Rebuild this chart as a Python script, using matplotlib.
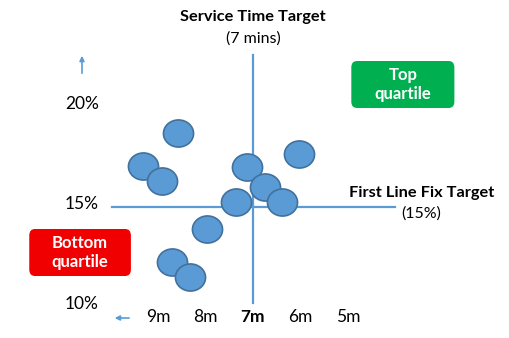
import matplotlib.pyplot as plt
from matplotlib.patches import FancyBboxPatch
from matplotlib.markers import MarkerStyle
from matplotlib.transforms import Affine2D

# service time (minutes) and first line fix rate (%) per site
service_min = [8.58, 9.32, 8.92, 7.13, 6.03, 6.75, 7.36, 6.39, 7.97, 8.71, 8.33]
fix_pct = [18.55, 16.9, 16.15, 16.85, 17.5, 15.85, 15.1, 15.1, 13.75, 12.1, 11.35]

time_ticks = [9, 8, 7, 6, 5]
time_labels = ['9m', '8m', '7m', '6m', '5m']
pct_ticks = [20, 15, 10]
pct_labels = ['20%', '15%', '10%']

time_target = 7
fix_target = 15

blue = '#5b9bd5'
edge = '#41719c'

plt.rcParams['font.family'] = ['Lato', 'DejaVu Sans']

fig = plt.figure(figsize=(5.1, 3.38), dpi=100)
ax = fig.add_axes([0, 0, 1, 1])
ax.set_xlim(12.326, 1.589)   # faster times to the right
ax.set_ylim(8.3, 25.2)
ax.axis('off')

# target cross-hairs
ax.plot([time_target, time_target], [10.05, 22.45], color=blue, lw=1.6, zorder=1)
ax.plot([9.97, 4.01], [fix_target - 0.15, fix_target - 0.15], color=blue, lw=1.6, zorder=1)

# slightly flattened discs
oval = MarkerStyle('o', transform=Affine2D().scale(1.0, 0.9))
ax.scatter(service_min, fix_pct, s=470, marker=oval, color=blue,
           edgecolor=edge, linewidth=1.2, zorder=3)

# axis labels
for t, lab in zip(time_ticks, time_labels):
    ax.text(t, 9.35, lab, ha='center', va='center', fontsize=12.5,
            fontweight='bold' if t == time_target else 'normal')
for p, lab in zip(pct_ticks, pct_labels):
    ax.text(10.6, p, lab, ha='center', va='center', fontsize=12.5)

# direction arrows
ax.annotate('', xy=(10.6, 22.55), xytext=(10.6, 21.4),
            arrowprops=dict(arrowstyle='-|>', color=blue, lw=1.2, mutation_scale=7))
ax.annotate('', xy=(9.97, 9.3), xytext=(9.55, 9.3),
            arrowprops=dict(arrowstyle='-|>', color=blue, lw=1.2, mutation_scale=7))

# target titles
ax.text(time_target, 24.35, 'Service Time Target', ha='center', va='center',
        fontsize=11.8, fontweight='bold')
ax.text(time_target, 23.25, '(7 mins)', ha='center', va='center', fontsize=11.5)
ax.text(3.45, 15.55, 'First Line Fix Target', ha='center', va='center',
        fontsize=11.8, fontweight='bold')
ax.text(3.45, 14.5, '(15%)', ha='center', va='center', fontsize=11.5)

# quartile badges
def badge(x0, x1, y0, y1, color, text):
    box = FancyBboxPatch((min(x0, x1), y0), abs(x1 - x0), y1 - y0,
                         boxstyle='round,pad=0,rounding_size=0.12',
                         facecolor=color, edgecolor='none', zorder=2,
                         mutation_aspect=(y1 - y0) / abs(x1 - x0) * 2.5)
    ax.add_patch(box)
    ax.text((x0 + x1) / 2, (y0 + y1) / 2, text, ha='center', va='center',
            color='white', fontsize=12, fontweight='bold', linespacing=1.3, zorder=3)

badge(4.93, 2.76, 19.8, 22.15, '#00b050', 'Top\nquartile')
badge(11.71, 9.57, 11.4, 13.75, '#f00000', 'Bottom\nquartile')

fig.savefig('out.png', dpi=100)
